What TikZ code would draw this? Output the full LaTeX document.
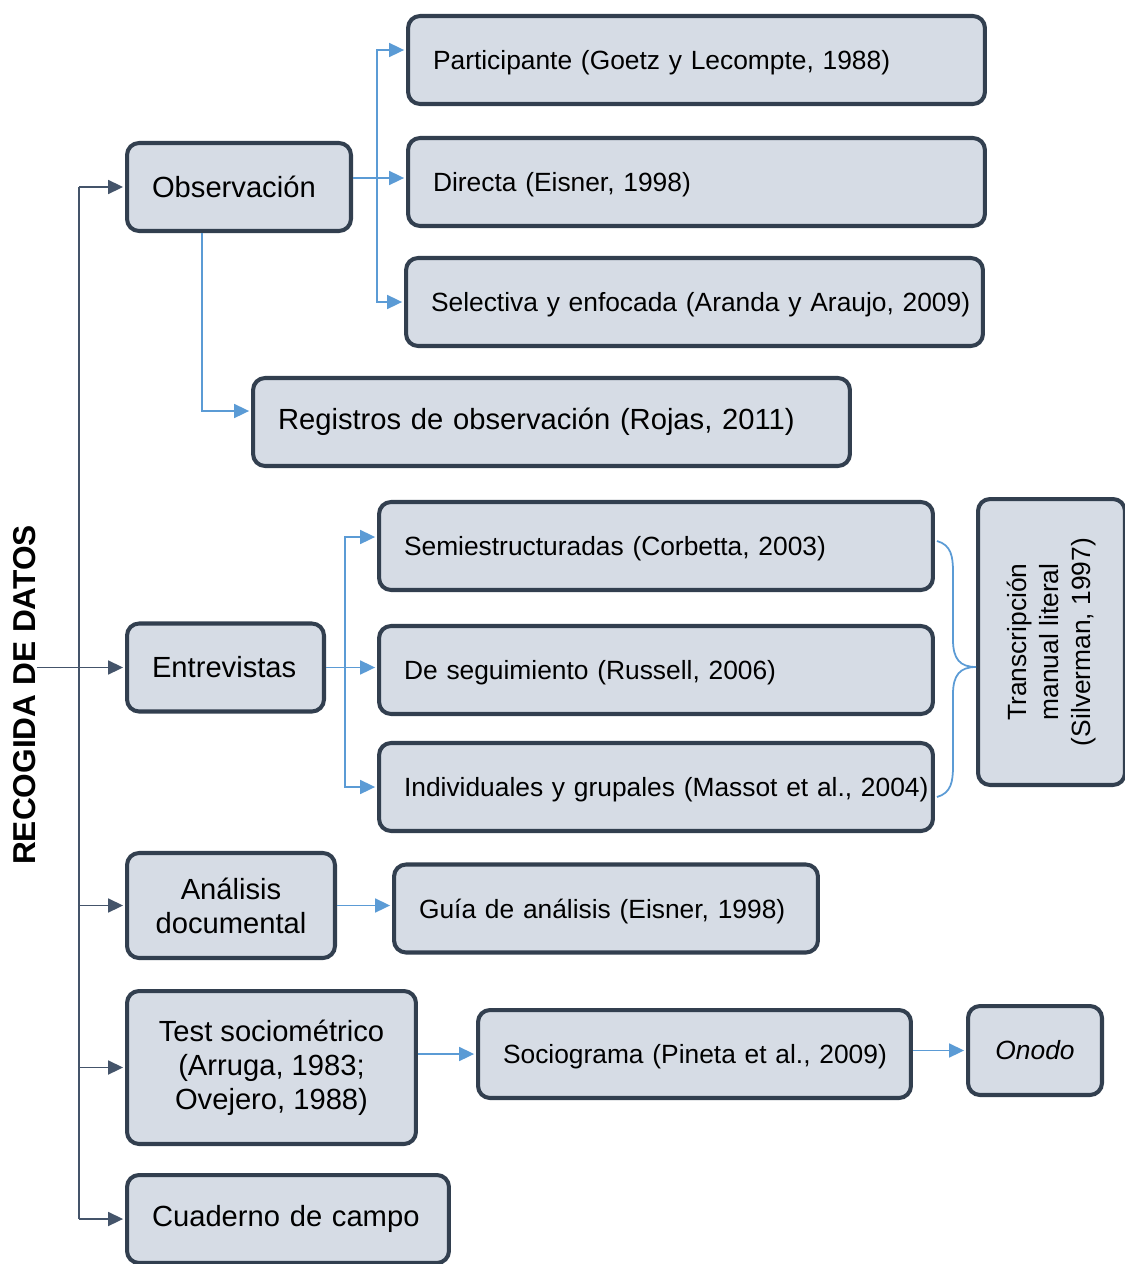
\documentclass[tikz,border=0pt]{standalone}
\usepackage{fontspec}
\setmainfont{Liberation Sans}
\usetikzlibrary{arrows.meta}
\definecolor{datFill}{HTML}{D6DCE5}
\definecolor{datLine}{HTML}{323F4F}
\definecolor{datDark}{HTML}{44546A}
\definecolor{datBlue}{HTML}{5B9BD5}
\newcommand{\datBig}{\fontsize{16.6}{19.3}\selectfont}
\newcommand{\datSm}{\fontsize{15}{18}\selectfont}
\begin{document}
\begin{tikzpicture}[x=0.02cm,y=-0.02cm,
    datBoxG/.style={rectangle,rounded corners=0.24cm,draw=datLine,fill=datFill,line width=2.3pt,minimum height=1.76cm},
    datBoxL/.style={datBoxG,inner xsep=0pt,text width=#1,align=left,execute at begin node=\hspace*{0.5cm}},
    datBoxS/.style={datBoxL=#1,font=\datSm,text height=0.5cm,text depth=0.11cm},
    datBoxC/.style={datBoxG,align=center},
    datLnD/.style={draw=datDark,line width=1pt},
    datArrD/.style={-{Triangle[length=0.3cm,width=0.28cm]},datDark,line width=1pt,shorten >=1.1pt},
    datArrB/.style={-{Triangle[length=0.3cm,width=0.28cm]},datBlue,line width=1pt,shorten >=1.1pt},
    datBrace/.style={draw=datBlue,line width=1pt},
]
\useasboundingbox (0,0) rectangle (1125,1264);
\node[rotate=90,inner sep=0pt,font=\bfseries\fontsize{18}{21}\selectfont] (title) at (25,695) {RECOGIDA DE DATOS};
\node[datBoxS=11.54cm] (part) at (696.5,60) {Participante (Goetz y Lecompte, 1988)};
\node[datBoxS=11.54cm] (dir) at (696.5,182) {Directa (Eisner, 1998)};
\node[datBoxS=11.54cm] (sel) at (694.5,302) {Selectiva y enfocada (Aranda y Araujo, 2009)};
\node[datBoxL=4.48cm,font=\datBig] (obs) at (239,187) {Observación};
\node[datBoxL=11.94cm,font=\datBig] (reg) at (551.5,422) {Registros de observación (Rojas, 2011)};
\node[datBoxS=11.08cm] (semi) at (656,546) {Semiestructuradas (Corbetta, 2003)};
\node[datBoxS=11.08cm] (segu) at (656,670) {De seguimiento (Russell, 2006)};
\node[datBoxS=11.08cm] (indiv) at (656,787) {Individuales y grupales (Massot et al., 2004)};
\node[datBoxL=3.94cm,font=\datBig] (entr) at (225.5,667.5) {Entrevistas};
\node[datBoxC,rotate=90,minimum width=5.72cm,minimum height=2.94cm,font=\datSm] (transc) at (1051.5,642) {Transcripción\\manual literal\\(Silverman, 1997)};
\node[datBoxC,minimum width=4.16cm,minimum height=2.1cm,font=\datBig] (anal) at (231,905.5) {Análisis\\documental};
\node[datBoxS=8.48cm] (guia) at (606,908.5) {Guía de análisis (Eisner, 1998)};
\node[datBoxC,minimum width=5.78cm,minimum height=3.06cm,font=\datBig] (test) at (271.5,1067.5) {Test sociométrico\\(Arruga, 1983;\\Ovejero, 1988)};
\node[datBoxS=8.66cm] (socio) at (694.5,1054) {Sociograma (Pineta et al., 2009)};
\node[datBoxC,minimum width=2.68cm,minimum height=1.78cm,font=\datSm\itshape] (onodo) at (1035,1050.5) {Onodo};
\node[datBoxL=6.44cm,font=\datBig] (cuad) at (288,1219) {Cuaderno de campo};
% main trunk
\coordinate (trunk) at (79,188);
\draw[datLnD] (trunk |- obs.west) -- (trunk |- cuad.west);
\foreach \n in {obs,anal,test,cuad}
  \draw[datArrD] (trunk |- \n.west) -- (\n.west);
\draw[datArrD] (title.south |- entr.west) -- (entr.west);
% observacion
\coordinate (obsJ) at (377,178);
\draw[datArrB] (obs.east |- obsJ) -- (dir.west |- obsJ);
\draw[datArrB] (obsJ) |- ([yshift=0.2cm]part.west);
\draw[datArrB] (obsJ) |- (sel.west);
\draw[datArrB] ([xshift=-0.74cm]obs.south) |- ([yshift=0.22cm]reg.west);
% entrevistas
\coordinate (entrJ) at (345,667.5);
\draw[datArrB] (entr.east) -- (segu.west |- entr.east);
\draw[datArrB] (entrJ) |- ([yshift=0.18cm]semi.west);
\draw[datArrB] (entrJ) |- (indiv.west);
\coordinate (brTip) at (976,667);
\draw[datBrace] (937,541) .. controls (951,545) and (953,556) .. (953,572) -- (953,640)
  .. controls (953,659) and (960,667) .. (brTip) .. controls (960,667) and (953,675) .. (953,694)
  -- (953,766) .. controls (953,782) and (951,793) .. (937,797);
% resto
\draw[datArrB] (anal.east) -- (guia.west |- anal.east);
\draw[datArrB] (test.east |- socio.west) -- (socio.west);
\draw[datArrB] (socio.east |- onodo.west) -- (onodo.west);
\end{tikzpicture}
\end{document}
